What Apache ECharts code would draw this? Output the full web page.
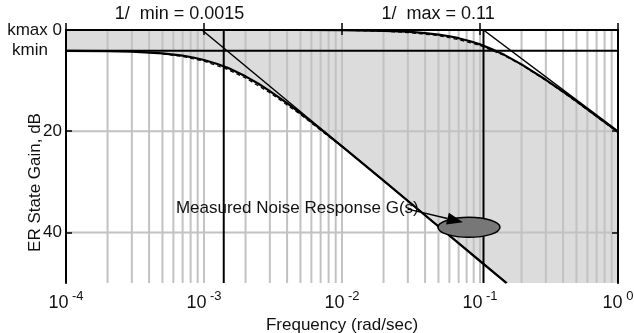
<!DOCTYPE html>
<html><head><meta charset="utf-8">
<script src="https://cdn.jsdelivr.net/npm/echarts@6/dist/echarts.min.js"></script>
<style>html,body{margin:0;padding:0;background:#fff}#c{width:634px;height:333px}</style>
</head><body><div id="c"></div>
<script>
// ---- data ----
const xTicks = [1e-4, 1e-3, 1e-2, 1e-1, 1];
const xTickExp = ['-4', '-3', '-2', '-1', '0'];
const yTicks = [0, -20, -40];
const yTickLabels = ['kmax 0', '20', '40'];
const kminDb = -4.1;
const kminLabel = 'kmin';
const tauMinFreq = 0.00139;
const tauMaxFreq = 0.106;
const tauMinText = '1/  min = 0.0015';
const tauMaxText = '1/  max = 0.11';
const gridDecades = [1e-4, 1e-3, 1e-2, 1e-1];
const gridMultipliers = [1, 2, 3, 4, 5, 6, 7, 8, 9];
const yGridValues = [-20, -40];

const upperFreq = [1e-4,1e-3,5e-3,1e-2,2e-2,3e-2,4e-2,5e-2,6e-2,7e-2,8.5e-2,0.1,0.125,0.15,0.2,0.3,0.4,0.5,0.7,1];
const upperDb   = [0,0,0,-0.04,-0.16,-0.34,-0.6,-0.9,-1.24,-1.62,-2.22,-2.84,-3.9,-4.91,-6.79,-9.84,-12.18,-14.07,-17.0,-20.13];
const lowerFreq = [1e-4,2e-4,3e-4,5e-4,7e-4,8.5e-4,1e-3,1.25e-3,1.5e-3,2e-3,2.5e-3,3e-3,4e-3,5e-3,7e-3,1e-2,2e-2,5e-2,0.1,0.155];
const lowerDb   = [-4.12,-4.19,-4.29,-4.62,-5.08,-5.48,-5.92,-6.71,-7.53,-9.16,-10.68,-12.07,-14.46,-16.45,-19.58,-22.99,-29.77,-38.83,-45.69,-50.0];
const dashUpperFreq = [0.01,0.02,0.03,0.05,0.07,0.1,0.15,0.2,0.3,0.5,0.7,1];
const dashUpperDb   = [-0.05,-0.25,-0.5,-1.1,-1.9,-3.05,-5.05,-6.9,-9.95,-14.2,-17.15,-20.25];
const dashLowerFreq = [5e-4,7e-4,1e-3,1.5e-3,2e-3,3e-3,5e-3,7e-3,1e-2];
const dashLowerDb   = [-4.7,-5.25,-6.15,-7.85,-9.5,-12.4,-16.7,-19.8,-23.1];
const lowAsymFreq = [0.000967, 0.157];
const lowAsymDb   = [0, -50];
const upAsymFreq = [0.106, 1];
const upAsymDb   = [0, -20.0];

const noteText = 'Measured Noise Response G(s)';
const noteTextAt = [6.26e-4, -35.3];
const noteArrowFrom = [0.030, -35.4];
const noteArrowTo = [0.0753, -38.0];
const noteEllipseAt = [0.0832, -39.0];

const xMin = 1e-4, xMax = 1, yMin = -50, yMax = 0;

// ---- build ----
const pairs = (xs, ys) => xs.map((x, i) => [x, ys[i]]);
const gridFreqs = [];
gridDecades.forEach(d => gridMultipliers.forEach(m => gridFreqs.push(d * m)));

const FONT = 'Liberation Sans, Arial, sans-serif';
const chart = echarts.init(document.getElementById('c'), null, {renderer: 'canvas'});

const lineS = (data, width, extra) => Object.assign({
  type: 'line', data: data, showSymbol: false, symbol: 'none', silent: true,
  lineStyle: {color: '#000', width: width}, z: 5, animation: false
}, extra || {});

chart.setOption({
  animation: false,
  textStyle: {fontFamily: FONT},
  grid: {left: 66, right: 16, top: 30, bottom: 50, show: false, containLabel: false, outerBoundsMode: 'none'},
  xAxis: [{
    type: 'log', logBase: 10, min: xMin, max: xMax, z: 10,
    axisLine: {show: true, lineStyle: {color: '#000', width: 2}},
    axisTick: {show: true, inside: true, length: 7, lineStyle: {color: '#000', width: 1.5}},
    splitLine: {show: false}, minorTick: {show: false},
    axisLabel: {
      margin: 7, color: '#111', hideOverlap: false,
      formatter: v => {
        let k = 0, best = 1e9;
        xTicks.forEach((t, i) => { const d = Math.abs(Math.log10(t) - Math.log10(v)); if (d < best) { best = d; k = i; } });
        return '{a|10}{b| ' + xTickExp[k] + '}';
      },
      rich: {
        a: {fontSize: 18, lineHeight: 22, verticalAlign: 'bottom', fontFamily: FONT, color: '#111'},
        b: {fontSize: 13, lineHeight: 13, verticalAlign: 'top', fontFamily: FONT, color: '#111'}
      }
    },
    name: 'Frequency (rad/sec)', nameLocation: 'middle', nameGap: 39,
    nameTextStyle: {fontSize: 17, color: '#111', fontFamily: FONT, verticalAlign: 'middle'}
  }, {
    type: 'log', logBase: 10, min: xMin, max: xMax, position: 'top', z: 10,
    axisLine: {show: true, lineStyle: {color: '#000', width: 2}},
    axisTick: {show: true, inside: true, length: 5, lineStyle: {color: '#000', width: 1.5}},
    axisLabel: {show: false}, splitLine: {show: false}
  }],
  yAxis: [{
    type: 'value', min: yMin, max: yMax, z: 10,
    axisLine: {show: true, lineStyle: {color: '#000', width: 2}},
    axisTick: {show: true, inside: true, length: 6, customValues: yTicks, lineStyle: {color: '#000', width: 1.5}},
    splitLine: {show: false},
    axisLabel: {
      margin: 4, color: '#111', fontSize: 17, fontFamily: FONT,
      customValues: yTicks.concat([kminDb]),
      formatter: v => {
        if (Math.abs(v - kminDb) < 1e-6) return '{k|' + kminLabel + '}';
        const i = yTicks.indexOf(v);
        return i >= 0 ? yTickLabels[i] : '';
      },
      rich: {k: {fontSize: 17, fontFamily: FONT, color: '#111', padding: [0, 14, 0, 0]}}
    }
  }, {
    type: 'value', min: yMin, max: yMax, position: 'right', z: 10,
    axisLine: {show: true, lineStyle: {color: '#000', width: 2}},
    axisTick: {show: true, inside: true, length: 6, customValues: yTicks, lineStyle: {color: '#000', width: 1.5}},
    axisLabel: {show: false}, splitLine: {show: false}
  }],
  series: [
    {
      type: 'custom', z: 1, silent: true, animation: false,
      data: [[xMin, 0]],
      renderItem: (params, api) => {
        const pts = [];
        upperFreq.forEach((f, i) => pts.push(api.coord([f, upperDb[i]])));
        pts.push(api.coord([xMax, yMin]));
        for (let i = lowerFreq.length - 1; i >= 0; i--) pts.push(api.coord([lowerFreq[i], lowerDb[i]]));
        return {type: 'polygon', shape: {points: pts}, style: {fill: '#dcdcdc'}};
      }
    },
    {
      type: 'custom', z: 2, silent: true, animation: false,
      data: gridFreqs.map(f => [f, 0]),
      renderItem: (params, api) => {
        const f = api.value(0);
        const a = api.coord([f, yMax]), b = api.coord([f, yMin]);
        return {type: 'line', shape: {x1: a[0], y1: a[1], x2: b[0], y2: b[1]}, style: {stroke: '#c2c2c2', lineWidth: 2}};
      }
    },
    {
      type: 'custom', z: 2, silent: true, animation: false,
      data: yGridValues.map(v => [xMin, v]),
      renderItem: (params, api) => {
        const v = api.value(1);
        const a = api.coord([xMin, v]), b = api.coord([xMax, v]);
        return {type: 'line', shape: {x1: a[0], y1: a[1], x2: b[0], y2: b[1]}, style: {stroke: '#c2c2c2', lineWidth: 2}};
      }
    },
    lineS([[xMin, kminDb], [xMax, kminDb]], 2),
    lineS([[tauMinFreq, yMax], [tauMinFreq, yMin]], 2),
    lineS([[tauMaxFreq, yMax], [tauMaxFreq, yMin]], 2),
    lineS(pairs(lowAsymFreq, lowAsymDb), 1.5),
    lineS(pairs(upAsymFreq, upAsymDb), 1.5),
    lineS(pairs(upperFreq, upperDb), 2.2),
    lineS(pairs(lowerFreq, lowerDb), 2.2),
    lineS(pairs(dashUpperFreq, dashUpperDb), 1.2, {lineStyle: {color: '#000', width: 1.2, type: [4, 3]}}),
    lineS(pairs(dashLowerFreq, dashLowerDb), 1.2, {lineStyle: {color: '#000', width: 1.2, type: [4, 3]}})
  ]
});

// ---- annotations positioned through the chart's scales ----
const px = p => chart.convertToPixel({gridIndex: 0}, p);
const tMin = px([tauMinFreq, yMax]);
const tMax = px([tauMaxFreq, yMax]);
const nt = px(noteTextAt);
const af = px(noteArrowFrom), at = px(noteArrowTo);
const el = px(noteEllipseAt);
const ang = Math.atan2(at[1] - af[1], at[0] - af[0]);
const L = 16, W = 6;
const bx = at[0] - L * Math.cos(ang), by = at[1] - L * Math.sin(ang);
const head = [[at[0], at[1]], [bx + W * Math.sin(ang), by - W * Math.cos(ang)], [bx - W * Math.sin(ang), by + W * Math.cos(ang)]];
const gridTop = px([xMin, yMax])[1];
const gridBot = px([xMin, yMin])[1];

chart.setOption({
  graphic: [
    {type: 'text', left: tMin[0] - 109, top: 5, z: 20,
     style: {text: tauMinText, fontSize: 18, fontFamily: FONT, fill: '#111'}},
    {type: 'text', left: tMax[0] - 102, top: 5, z: 20,
     style: {text: tauMaxText, fontSize: 18, fontFamily: FONT, fill: '#111'}},
    {type: 'text', x: 35, y: (gridTop + gridBot) / 2 + 26, rotation: Math.PI / 2, z: 20,
     style: {text: 'ER State Gain, dB', fontSize: 17, fontFamily: FONT, fill: '#111', align: 'center', verticalAlign: 'middle'}},
    {type: 'text', x: nt[0], y: nt[1], z: 20,
     style: {text: noteText, fontSize: 17, fontFamily: FONT, fill: '#111', align: 'left', verticalAlign: 'middle'}},
    {type: 'line', z: 20, shape: {x1: af[0], y1: af[1], x2: bx, y2: by}, style: {stroke: '#000', lineWidth: 1.5}},
    {type: 'ellipse', z: 19, shape: {cx: el[0], cy: el[1], rx: 31, ry: 10}, style: {fill: '#777', stroke: '#000', lineWidth: 1.5}},
    {type: 'polygon', z: 21, shape: {points: head}, style: {fill: '#000'}}
  ]
});
</script></body></html>
